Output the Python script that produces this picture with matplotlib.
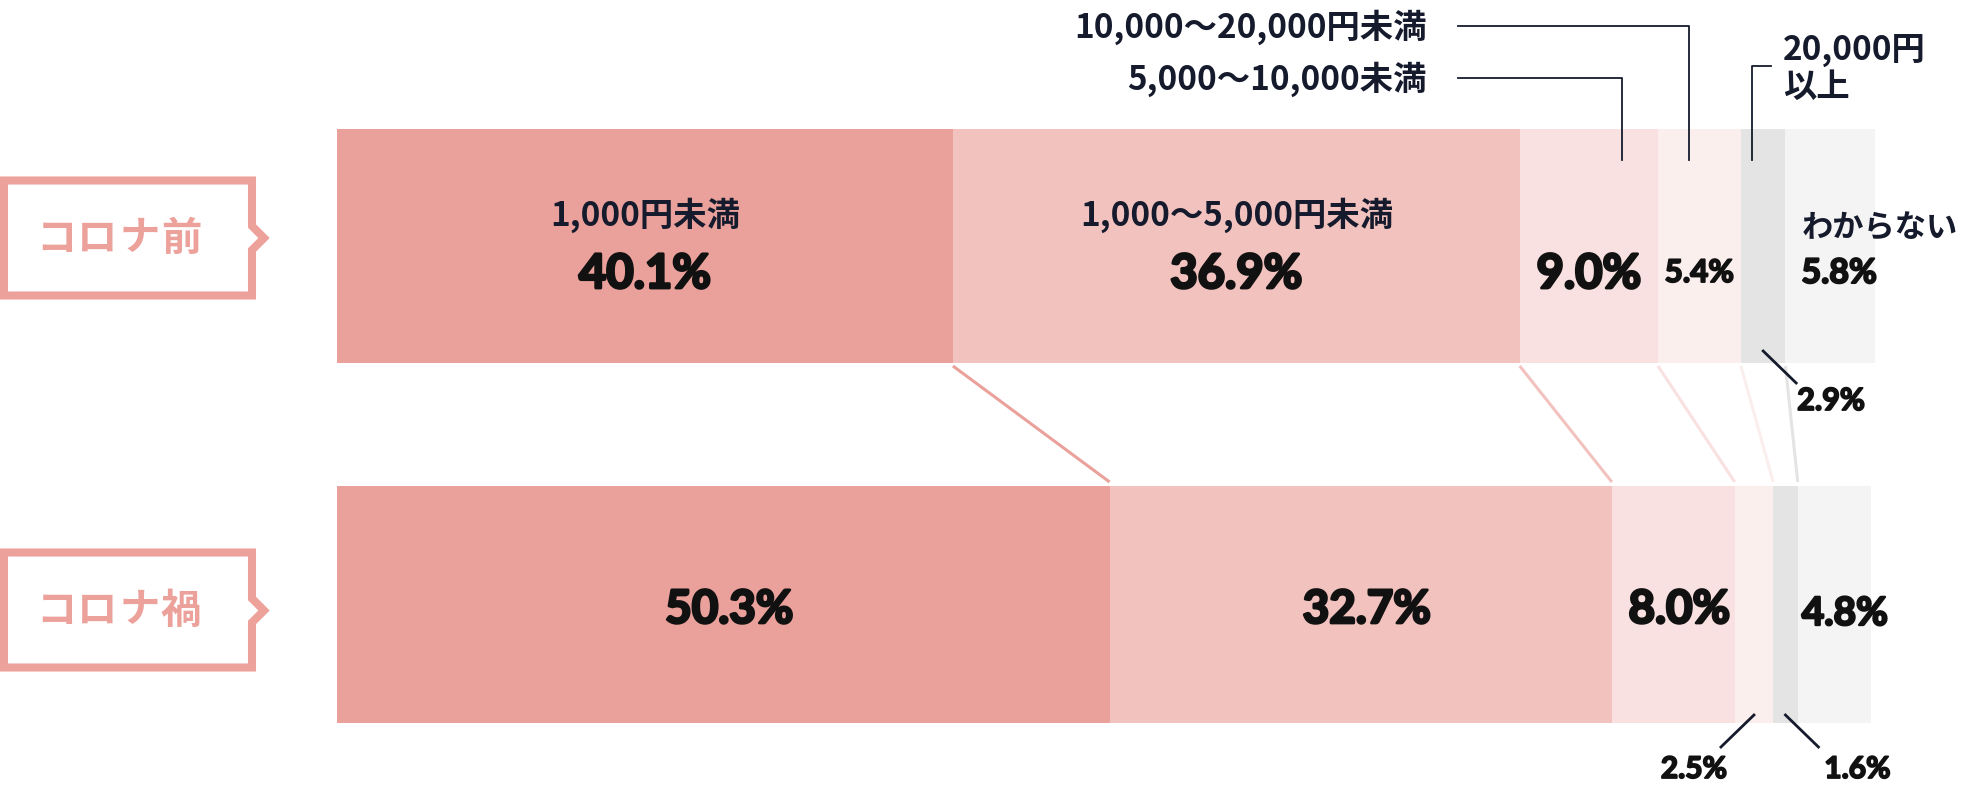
import matplotlib.pyplot as plt
from matplotlib.patches import Polygon
import matplotlib.patheffects as pe
import numpy as np

plt.rcParams['font.family'] = ['Noto Sans CJK JP', 'DejaVu Sans']

# Data
groups = ['コロナ前', 'コロナ禍']
categories = ['1,000円未満', '1,000〜5,000円未満', '5,000〜10,000未満',
              '10,000〜20,000円未満', '20,000円\n以上', 'わからない']
before = [40.1, 36.9, 9.0, 5.4, 2.9, 5.8]
after = [50.3, 32.7, 8.0, 2.5, 1.6, 4.8]

colors = ['#eba19b', '#f2c2bf', '#f8e1e0', '#fbefee', '#e4e4e4', '#f4f4f4']
pink = '#eca19b'
navy = '#151b2c'
black = '#111111'

W, H = 1961, 790
X0 = 337          # pixel where 0% starts
S = 15.36         # pixels per percent

fig = plt.figure(figsize=(W / 100, H / 100), dpi=100)
ax = fig.add_axes([0, 0, 1, 1])
ax.set_xlim(-X0 / S, (W - X0) / S)
ax.set_ylim(H, 0)
ax.axis('off')


def px(p):
    # pixel x -> data x
    return (p - X0) / S


def d(p):
    # pixel length -> data length
    return p / S


def pct(x, y, v, size, ha='center'):
    t = ax.text(x, y, f'{v:.1f}%', ha=ha, va='baseline', fontsize=size,
                fontweight='bold', family='Lato', color=black)
    t.set_path_effects([pe.withStroke(linewidth=size * 0.06, foreground=black)])
    return t


b_left = np.concatenate([[0], np.cumsum(before)[:-1]])
a_left = np.concatenate([[0], np.cumsum(after)[:-1]])
b_mid = b_left + np.array(before) / 2
a_mid = a_left + np.array(after) / 2

yt, ht = 246, 234
yb, hb = 604, 237
ax.barh(yt, before, left=b_left, height=ht, color=colors, linewidth=0)
ax.barh(yb, after, left=a_left, height=hb, color=colors, linewidth=0)

# connectors between the bars
for i in range(5):
    ax.plot([b_left[i] + before[i], a_left[i] + after[i]], [366, 482],
            color=colors[i], lw=2.2, solid_capstyle='butt')

# group label boxes
for g, yc, tip in [(groups[0], 238, 238), (groups[1], 610, 610.5)]:
    top, bot = yc - 57.5, yc + 57.5
    pts = [(px(4), top), (px(252), top), (px(252), tip - 12), (px(264), tip),
           (px(252), tip + 12), (px(252), bot), (px(4), bot)]
    ax.add_patch(Polygon(pts, closed=True, facecolor='white', edgecolor=pink,
                         lw=5.8, joinstyle='miter'))
    for ch, cx in zip(g, [56, 97.5, 139.5, 181]):
        ax.text(px(cx), yc + 1, ch, ha='center', va='center', fontsize=29,
                fontweight='bold', color=pink)

# top bar labels
for i in range(2):
    ax.text(b_mid[i], 226, categories[i], ha='center', va='baseline',
            fontsize=24, fontweight='bold', color=navy)
for i in range(3):
    pct(b_mid[i], 288, before[i], 34)
pct(b_mid[3], 282, before[3], 22.5)
ax.text(b_left[5] + d(16), 237, categories[5], ha='left', va='baseline',
        fontsize=22.5, fontweight='bold', color=navy)
pct(b_left[5] + d(16), 283, before[5], 24.5, ha='left')

# 2.9% leader
x = b_mid[4]
ax.plot([x, x + d(33)], [351, 383], color=navy, lw=2.0)
pct(x + d(34), 410, before[4], 22, ha='left')

# elbow leaders above the bar
for i, frac, ly, tx, ty in [(2, 0.74, 77.7, 1427, 90), (3, 0.38, 25.7, 1427, 37.5)]:
    x = b_left[i] + before[i] * frac
    ax.plot([x, x, px(1458)], [160, ly, ly], color=navy, lw=1.3)
    ax.text(px(tx), ty, categories[i], ha='right', va='baseline',
            fontsize=24, fontweight='bold', color=navy)
x = b_left[4] + before[4] * 0.25
ax.plot([x, x, px(1771)], [160, 65.7, 65.7], color=navy, lw=1.3)
for line, ty in zip(categories[4].split('\n'), [60, 97]):
    ax.text(px(1783), ty, line, ha='left', va='baseline',
            fontsize=24, fontweight='bold', color=navy)

# bottom bar labels
for i in range(3):
    pct(a_mid[i] + d(6), 623, after[i], 33)
pct(a_left[5] + d(4), 625, after[5], 28, ha='left')

x = a_mid[3]
ax.plot([x, x - d(33)], [715, 747], color=navy, lw=2.0)
pct(x - d(60), 778, after[3], 21.5)
x = a_mid[4]
ax.plot([x, x + d(33)], [715, 747], color=navy, lw=2.0)
pct(x + d(72), 778, after[4], 21.5)

fig.savefig('out.png', dpi=100, facecolor='white')
